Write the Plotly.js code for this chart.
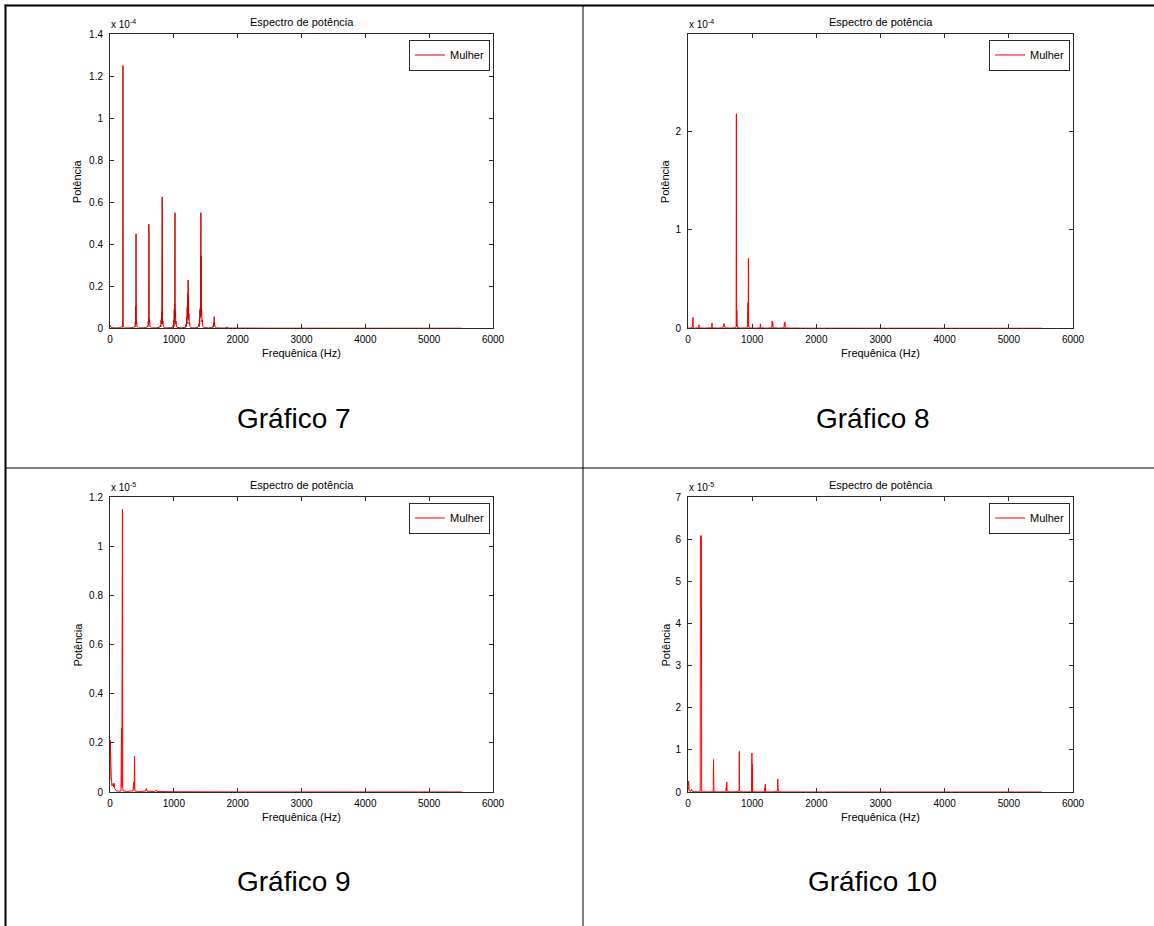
<!DOCTYPE html>
<html><head><meta charset="utf-8">
<script src="https://cdn.plot.ly/plotly-3.0.1.min.js"></script>
<style>html,body{margin:0;padding:0;background:#fff}#chart{width:1154px;height:926px}</style>
</head><body><div id="chart"></div>
<script>
// ---------- data ----------
const chartLabels = ['Gráfico 7', 'Gráfico 8', 'Gráfico 9', 'Gráfico 10'];
const seriesName = 'Mulher';
const chartTitle = 'Espectro de potência';
const xTitle = 'Frequênica (Hz)';
const yTitle = 'Potência';
const xTicks = [0, 1000, 2000, 3000, 4000, 5000, 6000];
const yTicks7 = [0, 0.2, 0.4, 0.6, 0.8, 1, 1.2, 1.4];
const yTicks8 = [0, 1, 2];
const yTicks9 = [0, 0.2, 0.4, 0.6, 0.8, 1, 1.2];
const yTicks10 = [0, 1, 2, 3, 4, 5, 6, 7];
const yMax = [1.4, 2.99, 1.2, 7];
const exponents = [-4, -4, -5, -5];

// Gráfico 7: frequency (Hz), power (x10^-4)
const freq7 = [0, 5, 15, 30, 60, 120,
  170, 185, 192, 197, 200, 203, 206, 209, 215, 230, 300,
  370, 385, 392, 397, 400, 402, 405, 408, 411, 414, 417, 422, 430, 445, 510,
  575, 588, 594, 600, 603, 606, 609, 612, 615, 618, 621, 626, 635, 650, 715,
  775, 790, 796, 801, 804, 808, 811, 816, 819, 822, 825, 828, 834, 845, 860, 920,
  980, 990, 995, 1000, 1003, 1006, 1009, 1012, 1015, 1018, 1021, 1024, 1027, 1030, 1034, 1040, 1050, 1125,
  1180, 1192, 1197, 1202, 1205, 1209, 1212, 1216, 1220, 1224, 1227, 1229, 1232, 1236, 1240, 1246, 1255, 1270, 1330,
  1380, 1392, 1397, 1402, 1405, 1409, 1412, 1416, 1420, 1424, 1427, 1429, 1432, 1436, 1440, 1446, 1455, 1470, 1540,
  1605, 1615, 1620, 1625, 1628, 1632, 1635, 1638, 1644, 1655, 1670,
  1800, 1836, 1850, 2000, 2500, 3000, 4000, 5000, 5512];
const pow7 = [0.015, 0.01, 0.005, 0.003, 0.002, 0.002,
  0.003, 0.008, 0.004, 0.02, 0.055, 1.25, 0.04, 0.015, 0.006, 0.002, 0.002,
  0.003, 0.01, 0.005, 0.03, 0.015, 0.105, 0.04, 0.45, 0.06, 0.02, 0.035, 0.01, 0.006, 0.002, 0.002,
  0.003, 0.012, 0.006, 0.035, 0.015, 0.06, 0.495, 0.42, 0.06, 0.025, 0.04, 0.012, 0.006, 0.002, 0.002,
  0.004, 0.015, 0.006, 0.04, 0.02, 0.079, 0.04, 0.625, 0.615, 0.05, 0.02, 0.035, 0.01, 0.004, 0.002, 0.002,
  0.004, 0.015, 0.005, 0.04, 0.01, 0.09, 0.03, 0.115, 0.06, 0.55, 0.11, 0.05, 0.08, 0.02, 0.035, 0.01, 0.004, 0.002,
  0.004, 0.02, 0.008, 0.05, 0.02, 0.1, 0.05, 0.165, 0.06, 0.23, 0.07, 0.13, 0.04, 0.07, 0.02, 0.03, 0.008, 0.002, 0.002,
  0.005, 0.02, 0.008, 0.05, 0.02, 0.09, 0.05, 0.1, 0.06, 0.55, 0.08, 0.345, 0.06, 0.09, 0.03, 0.04, 0.01, 0.003, 0.002,
  0.003, 0.012, 0.005, 0.025, 0.012, 0.055, 0.015, 0.028, 0.008, 0.003, 0.002,
  0.001, 0.006, 0.001, 0.001, 0.0005, 0.0005, 0.0003, 0.0003, 0.0003];

// Gráfico 8: frequency (Hz), power (x10^-4)
const freq8 = [0, 40, 70, 78, 82, 100, 165, 171, 177, 260, 368, 374, 380, 470,
  545, 555, 562, 568, 575, 650, 740, 750, 754, 758, 761, 765, 800,
  925, 935, 938, 941, 945, 955, 1050, 1122, 1128, 1134, 1230,
  1305, 1312, 1316, 1320, 1326, 1420, 1495, 1502, 1506, 1510, 1516, 1600,
  2000, 3000, 4000, 5000, 5512];
const pow8 = [0.003, 0.003, 0.01, 0.11, 0.01, 0.003, 0.005, 0.035, 0.004, 0.002, 0.005, 0.055, 0.004, 0.002,
  0.005, 0.04, 0.05, 0.03, 0.005, 0.002, 0.005, 0.02, 2.18, 0.02, 0.18, 0.01, 0.003,
  0.004, 0.26, 0.02, 0.71, 0.02, 0.004, 0.002, 0.004, 0.045, 0.004, 0.002,
  0.005, 0.075, 0.02, 0.06, 0.005, 0.002, 0.005, 0.055, 0.02, 0.065, 0.004, 0.002,
  0.001, 0.0008, 0.0005, 0.0005, 0.0005];

// Gráfico 9: frequency (Hz), power (x10^-5)
const freq9 = [0, 5, 10, 15, 20, 25, 30, 40, 50, 58, 65, 72, 85, 100, 140,
  172, 180, 185, 195, 199, 205, 260, 360, 368, 372, 378, 385, 390, 400, 480,
  560, 567, 573, 580, 700, 727, 735, 1000, 2000, 3000, 4000, 5000, 5512];
const pow9 = [0.05, 0.21, 0.15, 0.105, 0.06, 0.04, 0.025, 0.03, 0.035, 0.02, 0.035, 0.015, 0.01, 0.005, 0.003,
  0.005, 0.26, 0.02, 1.15, 0.02, 0.005, 0.002, 0.005, 0.03, 0.04, 0.01, 0.145, 0.01, 0.003, 0.002,
  0.004, 0.015, 0.012, 0.003, 0.002, 0.008, 0.002, 0.001, 0.0005, 0.0005, 0.0003, 0.0003, 0.0003];

// Gráfico 10: frequency (Hz), power (x10^-5)
const freq10 = [0, 10, 16, 25, 45, 55, 65, 100, 150, 190, 194, 209, 213, 300,
  393, 398, 403, 500, 590, 596, 600, 604, 610, 700,
  790, 796, 800, 804, 810, 900, 990, 996, 1000, 1003, 1008, 1100,
  1190, 1197, 1200, 1204, 1210, 1300, 1390, 1395, 1399, 1403, 1409, 1500,
  2000, 3000, 4000, 5000, 5512];
const pow10 = [0.05, 0.26, 0.05, 0.02, 0.02, 0.06, 0.02, 0.01, 0.005, 0.005, 6.08, 6.08, 0.005, 0.003,
  0.005, 0.77, 0.005, 0.003, 0.005, 0.12, 0.02, 0.24, 0.005, 0.003,
  0.01, 0.07, 0.965, 0.05, 0.005, 0.003, 0.005, 0.925, 0.02, 0.65, 0.005, 0.003,
  0.005, 0.1, 0.02, 0.18, 0.005, 0.003, 0.01, 0.08, 0.31, 0.12, 0.005, 0.002,
  0.001, 0.0008, 0.0005, 0.0005, 0.0005];

const freqs = [freq7, freq8, freq9, freq10];
const pows = [pow7, pow8, pow9, pow10];
const yTicks = [yTicks7, yTicks8, yTicks9, yTicks10];

// ---------- layout ----------
const W = 1154, H = 926;
const px = v => v / W;
const py = v => 1 - v / H;
const FONT = 'Liberation Sans, Arial, Helvetica, sans-serif';
const lineColors = ['#cc0000', '#ff0000', '#ff0000', '#ff0000'];

// plot boxes in pixels [left, right, top, bottom]
const boxes = [[110, 493, 34, 328.3], [688, 1073, 34, 328.3], [110, 493, 497, 792], [688, 1073, 497, 792]];
const cellCenters = [[294, 418], [873, 418], [294, 881], [873, 881]];
const yTitleX = [77, 665, 77, 665];

const layout = {
  width: W, height: H,
  margin: {l: 0, r: 0, t: 0, b: 0},
  paper_bgcolor: '#fff', plot_bgcolor: '#fff',
  font: {family: FONT, size: 10, color: '#000'},
  showlegend: true,
  annotations: [], shapes: []
};
const traces = [];
const axColor = '#2a2a2a';

for (let i = 0; i < 4; i++) {
  const [l, r, t, b] = boxes[i];
  const sfx = i === 0 ? '' : String(i + 1);
  const common = {
    showline: true, linecolor: axColor, linewidth: 1, mirror: 'allticks',
    ticks: 'inside', ticklen: 4, tickcolor: axColor, tickwidth: 1,
    showgrid: false, zeroline: false, layer: 'below traces', fixedrange: true,
    tickfont: {family: FONT, size: 10, color: '#000'}
  };
  layout['xaxis' + sfx] = Object.assign({}, common, {
    domain: [px(l), px(r)], anchor: 'y' + sfx, range: [0, 6000],
    tickmode: 'array', tickvals: xTicks, ticktext: xTicks.map(String), ticklabelstandoff: 2
  });
  layout['yaxis' + sfx] = Object.assign({}, common, {
    domain: [py(b), py(t)], anchor: 'x' + sfx, range: [0, yMax[i]],
    tickmode: 'array', tickvals: yTicks[i], ticktext: yTicks[i].map(String), ticklabelstandoff: 4
  });
  const legName = i === 0 ? 'legend' : 'legend' + (i + 1);
  layout[legName] = {
    x: px(r - 3), xanchor: 'right', y: py(t + 5.5), yanchor: 'top',
    bordercolor: axColor, borderwidth: 1, bgcolor: '#fff',
    font: {family: FONT, size: 11, color: '#000'},
    tracegroupgap: 0, itemwidth: 30
  };
  traces.push({
    x: freqs[i], y: pows[i], type: 'scatter', mode: 'lines', name: seriesName,
    xaxis: 'x' + sfx, yaxis: 'y' + sfx, legend: legName,
    line: {color: lineColors[i], width: 1, simplify: false},
    hoverinfo: 'skip'
  });
  const cx = (l + r) / 2;
  layout.annotations.push(
    {text: chartTitle, x: px(cx), y: py(t - 12), xref: 'paper', yref: 'paper', xanchor: 'center', yanchor: 'middle', showarrow: false, font: {family: FONT, size: 11, color: '#000'}},
    {text: xTitle, x: px(cx), y: py(b + 25), xref: 'paper', yref: 'paper', xanchor: 'center', yanchor: 'middle', showarrow: false, font: {family: FONT, size: 11, color: '#000'}},
    {text: yTitle, x: px(yTitleX[i]), y: py((t + b) / 2), xref: 'paper', yref: 'paper', xanchor: 'center', yanchor: 'middle', textangle: -90, showarrow: false, font: {family: FONT, size: 11, color: '#000'}},
    {text: 'x 10<sup>' + exponents[i] + '</sup>', x: px(l - 1), y: py(t - 2), xref: 'paper', yref: 'paper', xanchor: 'left', yanchor: 'bottom', showarrow: false, font: {family: FONT, size: 10, color: '#000'}},
    {text: chartLabels[i], x: px(cellCenters[i][0]), y: py(cellCenters[i][1]), xref: 'paper', yref: 'paper', xanchor: 'center', yanchor: 'middle', showarrow: false, font: {family: FONT, size: 28, color: '#000'}}
  );
}

// table borders
const ln = (x0, y0, x1, y1, w) => ({type: 'line', xref: 'paper', yref: 'paper', x0: px(x0), y0: py(y0), x1: px(x1), y1: py(y1), line: {color: '#000', width: w}});
layout.shapes.push(
  ln(4.5, 5.5, 1154, 5.5, 2),
  ln(5.5, 4.5, 5.5, 926, 2),
  ln(583, 5.5, 583, 926, 1),
  ln(5.5, 468, 1154, 468, 1)
);

Plotly.newPlot('chart', traces, layout, {displayModeBar: false, staticPlot: true});
</script>
</body></html>
